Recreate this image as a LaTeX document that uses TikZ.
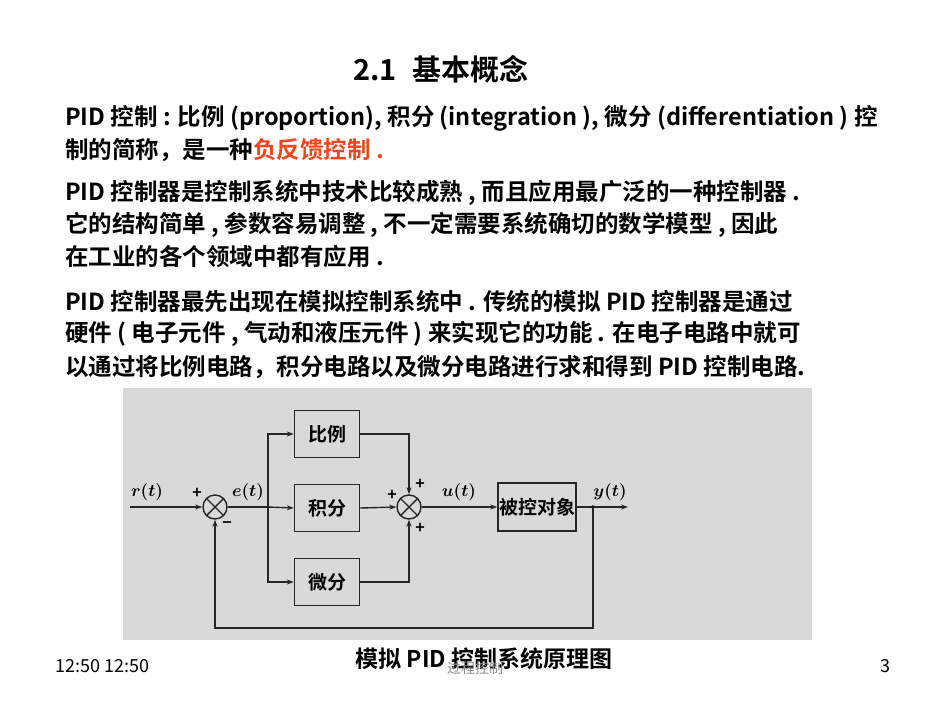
\documentclass[tikz,border=0pt]{standalone}
\usepackage{fontspec}
\setmainfont{Noto Sans CJK SC}[BoldFont={Noto Sans CJK SC Bold}]
\usetikzlibrary{arrows.meta}
\definecolor{redtxt}{RGB}{240,70,30}
\begin{document}
\begin{tikzpicture}[x=1pt,y=-1pt,
  line/.style={draw=black!85,line width=1.4pt},
  arr/.style={line,-{Stealth[length=7pt,width=5pt]}},
  blk/.style={draw=black!85,line width=1.5pt,minimum width=65pt,minimum height=47pt,inner sep=0pt,font=\fontsize{19}{19}\selectfont\bfseries},
  sumc/.style={circle,draw=black!85,line width=1.4pt,minimum size=24pt,inner sep=0pt},
  para/.style={anchor=west,inner sep=0pt,font=\fontsize{23.5}{23.5}\selectfont\bfseries},
  sig/.style={font=\fontsize{18}{18}\selectfont\boldmath,inner sep=0pt},
  pm/.style={font=\fontsize{16}{16}\selectfont\bfseries,inner sep=0pt}]
\useasboundingbox (0,0) rectangle (950,713);
\fill[white] (0,0) rectangle (950,713);
\node[para,anchor=center,font=\fontsize{29}{29}\selectfont\bfseries] (title) at (441,69) {2.1\hspace{16pt}基本概念};
\node[para] (p1) at (65,118) {PID 控制 : 比例 (proportion), 积分 (integration ), 微分 (differentiation ) 控};
\node[para] (p2) at (65,150) {制的简称，是一种\textcolor{redtxt}{负反馈控制 .}};
\node[para] (p3) at (65,193) {PID 控制器是控制系统中技术比较成熟 , 而且应用最广泛的一种控制器 .};
\node[para] (p4) at (65,225) {它的结构简单 , 参数容易调整 , 不一定需要系统确切的数学模型 , 因此};
\node[para] (p5) at (65,257) {在工业的各个领域中都有应用 .};
\node[para] (p6) at (65,302) {PID 控制器最先出现在模拟控制系统中 . 传统的模拟 PID 控制器是通过};
\node[para] (p7) at (65,334) {硬件 ( 电子元件 , 气动和液压元件 ) 来实现它的功能 . 在电子电路中就可};
\node[para] (p8) at (65,367) {以通过将比例电路，积分电路以及微分电路进行求和得到 PID 控制电路.};
% diagram
\fill[black!15] (123,388) rectangle (812,640);
\node[sumc] (s1) at (215,507) {};
\draw[line] (s1.45)--(s1.225) (s1.135)--(s1.315);
\node[sumc] (s2) at (409,507) {};
\draw[line] (s2.45)--(s2.225) (s2.135)--(s2.315);
\node[blk] (kp) at (327,434) {比例};
\node[blk] (ki) at (327,508) {积分};
\node[blk] (kd) at (327,582) {微分};
\node[blk,minimum width=78pt,minimum height=48pt] (pl) at (537,507) {被控对象};
\coordinate (rin) at (130,507);
\coordinate (j1) at (268,507);
\coordinate (j2) at (593,507);
\coordinate (yout) at (628,507);
\draw[arr] (rin)--(s1.west);
\draw[line] (s1.east)--(j1);
\fill (j1) circle (1.8pt);
\draw[arr] (j1)|-(kp.west);
\draw[arr] (j1)--(ki.west);
\draw[arr] (j1)|-(kd.west);
\draw[arr] (kp.east)-|(s2.north);
\draw[arr] (ki.east)--(s2.west);
\draw[arr] (kd.east)-|(s2.south);
\draw[arr] (s2.east)--(pl.west);
\draw[line] (pl.east)--(j2);
\fill (j2) circle (1.8pt);
\draw[arr] (j2)--(yout);
\draw[arr] (j2)|-(215,628)--(s1.south);
\node[sig] (lr) at (147,492) {$r(t)$};
\node[sig] (le) at (248,492) {$e(t)$};
\node[sig] (lu) at (459,492) {$u(t)$};
\node[sig] (ly) at (610,492) {$y(t)$};
\node[pm] (p1s) at (197,493) {+};
\node[pm] (m1s) at (227,525) {−};
\node[pm] (p2a) at (392,495) {+};
\node[pm] (p2b) at (420,484) {+};
\node[pm] (p2c) at (420,528) {+};
% footer
\node[para,font=\fontsize{23}{23}\selectfont\bfseries,anchor=center] (cap) at (484,659) {模拟 PID 控制系统原理图};
\node[para,font=\fontsize{18}{18}\selectfont] (date) at (55,666) {12:50 12:50};
\node[para,anchor=center,font=\fontsize{14}{14}\selectfont,text=black!45] (ft) at (475,668) {过程控制};
\node[para,anchor=center,font=\fontsize{18}{18}\selectfont] (pg) at (885,666) {3};
\end{tikzpicture}
\end{document}
